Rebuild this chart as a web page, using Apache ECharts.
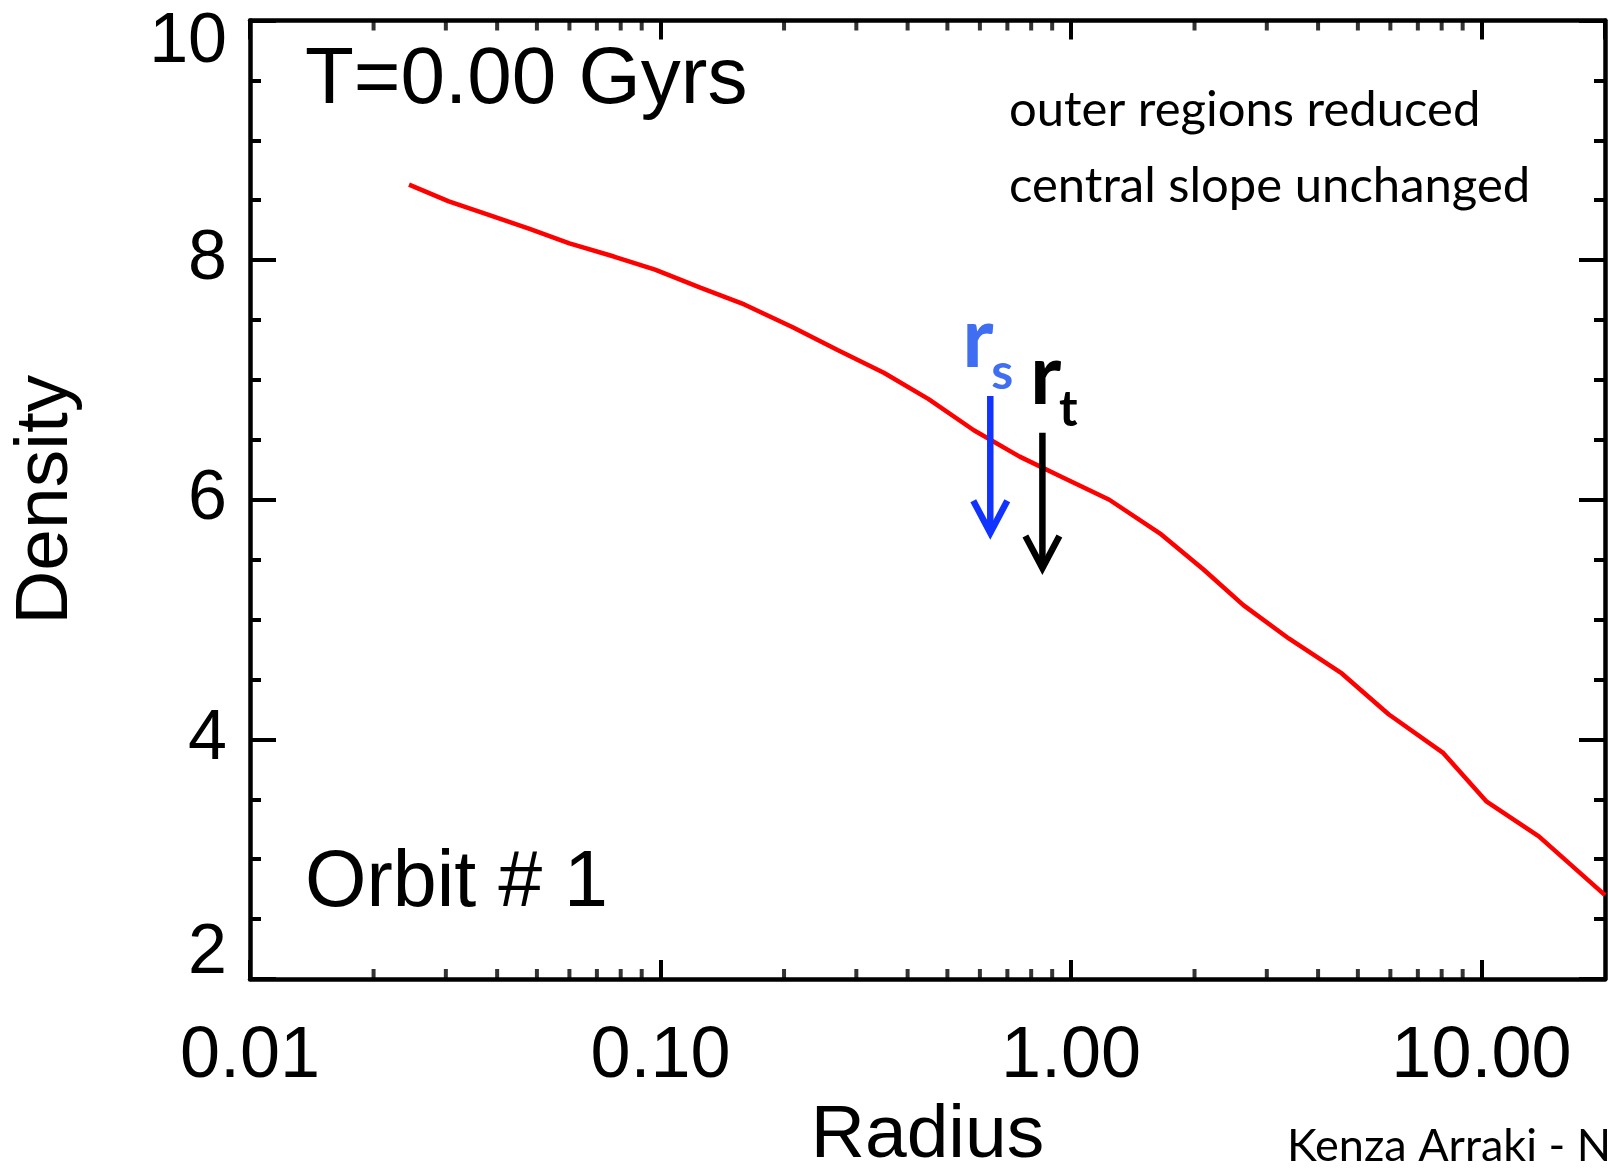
<!DOCTYPE html>
<html>
<head>
<meta charset="utf-8">
<script src="https://cdn.jsdelivr.net/npm/echarts@6/dist/echarts.min.js"></script>
<style>
html,body{margin:0;padding:0;background:#fff;}
#chart{width:1610px;height:1171px;}
</style>
</head>
<body>
<div id="chart"></div>
<script>
// ---- data ----
var radius  = [0.0244, 0.0305, 0.038, 0.048, 0.060, 0.077, 0.097, 0.125, 0.16, 0.21, 0.27, 0.35, 0.45, 0.58, 0.75, 0.95, 1.24, 1.66, 2.10, 2.63, 3.40, 4.57, 5.94, 8.05, 10.3, 13.8, 20];
var density = [8.63, 8.49, 8.38, 8.26, 8.14, 8.03, 7.92, 7.77, 7.63, 7.44, 7.25, 7.06, 6.84, 6.58, 6.36, 6.19, 6.00, 5.71, 5.42, 5.12, 4.84, 4.55, 4.21, 3.89, 3.48, 3.19, 2.70];
var xMinorTicks = [0.02,0.03,0.04,0.05,0.06,0.07,0.08,0.09, 0.2,0.3,0.4,0.5,0.6,0.7,0.8,0.9, 2,3,4,5,6,7,8,9];
var yTickLabels = ['2','4','6','8','10'];
// arrows: radius, start density, tip density
var arrowRadius = [0.636, 0.852];
var arrowTop    = [6.866, 6.56];
var arrowTip    = [5.725, 5.43];
var arrowMain   = ['r', 'r'];
var arrowSub    = ['s', 't'];

var xMin = 0.01, xMax = 20, yMin = 2, yMax = 10;

var lineData = radius.map(function (r, i) { return [r, density[i]]; });
var minorBottom = xMinorTicks.map(function (v) { return [v, yMin]; });
var minorTop = xMinorTicks.map(function (v) { return [v, yMax]; });
var arrowData = arrowRadius.map(function (r, i) { return [r, arrowTop[i], arrowTip[i], i]; });

var arrowColors = ['#1033ff', '#000000'];
var labelColors = ['#3f6ef2', '#000000'];
var labelDx = [-28, -12.5];

var chart = echarts.init(document.getElementById('chart'), null, {renderer: 'canvas'});

var axisLineStyle = {color: '#000', width: 4.5};

function yFormatter(v) {
  var s = String(Math.round(v));
  if (yTickLabels.indexOf(s) < 0) return '';
  if (v === yMax) return '{top|' + s + '}';
  if (v === yMin) return '{bot|' + s + '}';
  return s;
}
function xFormatter(v) {
  var l = Math.log10(v);
  if (Math.abs(l - Math.round(l)) > 1e-6) return '';
  return v.toFixed(2);
}

var fontMain = 'Liberation Sans';

var option = {
  backgroundColor: '#fff',
  animation: false,
  grid: {left: 250, right: 5, top: 20.5, bottom: 192, containLabel: false, outerBoundsMode: 'none'},
  xAxis: [{
    type: 'log', logBase: 10, min: xMin, max: xMax, position: 'bottom',
    name: 'Radius', nameLocation: 'middle', nameGap: 120,
    nameTextStyle: {fontFamily: fontMain, fontSize: 75, color: '#000'},
    axisLine: {show: true, lineStyle: axisLineStyle},
    axisTick: {show: true, inside: true, length: 19, lineStyle: {color: '#000', width: 4}},
    minorTick: {show: false},
    splitLine: {show: false},
    axisLabel: {show: true, formatter: xFormatter, fontFamily: fontMain, fontSize: 72, color: '#000', margin: 42, showMaxLabel: false}
  }, {
    type: 'log', logBase: 10, min: xMin, max: xMax, position: 'top',
    axisLine: {show: true, lineStyle: axisLineStyle},
    axisTick: {show: true, inside: true, length: 19, lineStyle: {color: '#000', width: 4}},
    splitLine: {show: false},
    axisLabel: {show: false}
  }],
  yAxis: [{
    type: 'value', min: yMin, max: yMax, interval: 2, position: 'left',
    name: 'Density', nameLocation: 'middle', nameGap: 166, nameRotate: 90,
    nameTextStyle: {fontFamily: fontMain, fontSize: 75, color: '#000'},
    axisLine: {show: true, lineStyle: axisLineStyle},
    axisTick: {show: true, inside: true, length: 26, lineStyle: {color: '#000', width: 4}},
    minorTick: {show: true, splitNumber: 4, length: 11, lineStyle: {color: '#000', width: 4}},
    splitLine: {show: false},
    axisLabel: {
      show: true, formatter: yFormatter, fontFamily: fontMain, fontSize: 70, color: '#000', margin: 23,
      rich: {
        top: {fontFamily: fontMain, fontSize: 70, color: '#000', padding: [44, 0, 0, 0]},
        bot: {fontFamily: fontMain, fontSize: 70, color: '#000', padding: [0, 0, 50, 0]}
      }
    }
  }, {
    type: 'value', min: yMin, max: yMax, interval: 2, position: 'right',
    axisLine: {show: true, lineStyle: axisLineStyle},
    axisTick: {show: true, inside: true, length: 26, lineStyle: {color: '#000', width: 4}},
    minorTick: {show: true, splitNumber: 4, length: 11, lineStyle: {color: '#000', width: 4}},
    splitLine: {show: false},
    axisLabel: {show: false}
  }],
  series: [{
    type: 'line', xAxisIndex: 0, yAxisIndex: 0, data: lineData,
    showSymbol: false, symbol: 'none', smooth: false,
    lineStyle: {color: '#ff0000', width: 4.5}, z: 5
  }, {
    type: 'scatter', xAxisIndex: 0, yAxisIndex: 0, data: minorBottom,
    symbol: 'rect', symbolSize: [4, 10], symbolOffset: [0, -5],
    itemStyle: {color: '#000'}, clip: false, silent: true, z: 6
  }, {
    type: 'scatter', xAxisIndex: 0, yAxisIndex: 0, data: minorTop,
    symbol: 'rect', symbolSize: [4, 10], symbolOffset: [0, 5],
    itemStyle: {color: '#000'}, clip: false, silent: true, z: 6
  }, {
    type: 'custom', xAxisIndex: 0, yAxisIndex: 0, data: arrowData, clip: false, z: 8,
    renderItem: function (params, api) {
      var idx = api.value(3);
      var p1 = api.coord([api.value(0), api.value(1)]);
      var p2 = api.coord([api.value(0), api.value(2)]);
      var col = arrowColors[idx];
      var lcol = labelColors[idx];
      var dx = labelDx[idx];
      return {
        type: 'group',
        children: [{
          type: 'line',
          shape: {x1: p1[0], y1: p1[1], x2: p2[0], y2: p2[1] - 3},
          style: {stroke: col, lineWidth: 6.5}
        }, {
          type: 'polyline',
          shape: {points: [[p2[0] - 17, p2[1] - 32], [p2[0], p2[1]], [p2[0] + 17, p2[1] - 32]]},
          style: {stroke: col, lineWidth: 6.5, fill: null, lineJoin: 'miter'}
        }, {
          type: 'text', x: p1[0] + dx, y: p1[1] - 56,
          style: {text: arrowMain[idx], fontFamily: 'Lato', fontWeight: 'bold', fontSize: 84, fill: lcol, align: 'left', verticalAlign: 'middle'}
        }, {
          type: 'text', x: p1[0] + dx + 29, y: p1[1] - 23,
          style: {text: arrowSub[idx], fontFamily: 'Lato', fontWeight: 'bold', fontSize: 50, fill: lcol, align: 'left', verticalAlign: 'middle'}
        }]
      };
    }
  }],
  graphic: [{
    type: 'text', x: 305, y: 81,
    style: {text: 'T=0.00 Gyrs', fontFamily: fontMain, fontSize: 80, fill: '#000', align: 'left', verticalAlign: 'middle'}
  }, {
    type: 'text', x: 305, y: 884,
    style: {text: 'Orbit # 1', fontFamily: fontMain, fontSize: 79, fill: '#000', align: 'left', verticalAlign: 'middle'}
  }, {
    type: 'text', x: 1009, y: 110,
    style: {text: 'outer regions reduced', fontFamily: 'Lato', fontSize: 49, fill: '#000', align: 'left', verticalAlign: 'middle'}
  }, {
    type: 'text', x: 1009, y: 186,
    style: {text: 'central slope unchanged', fontFamily: 'Lato', fontSize: 49, fill: '#000', align: 'left', verticalAlign: 'middle'}
  }, {
    type: 'text', x: 1287, y: 1146,
    style: {text: 'Kenza Arraki - N', fontFamily: 'Lato', fontSize: 45, fill: '#000', align: 'left', verticalAlign: 'middle'}
  }]
};
chart.setOption(option);
</script>
</body>
</html>
